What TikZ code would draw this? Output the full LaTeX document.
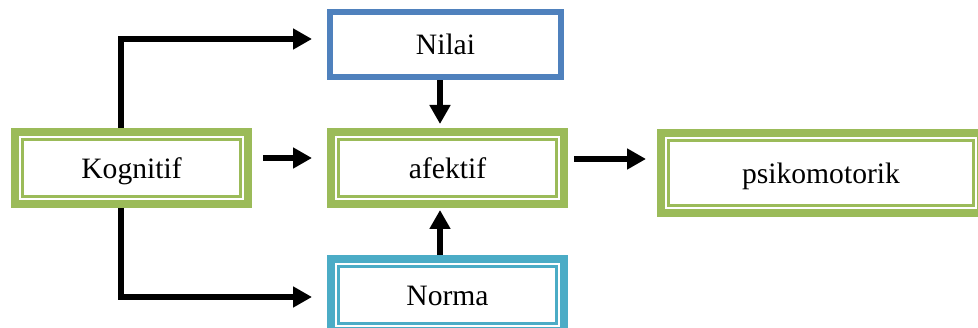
\documentclass[tikz,border=0pt]{standalone}
\usepackage{fontspec}
\setmainfont{Liberation Serif}
\usetikzlibrary{arrows.meta}
\definecolor{kgreen}{HTML}{9BBB59}
\definecolor{kblue}{HTML}{4F81BD}
\definecolor{kcyan}{HTML}{4BACC6}
\begin{document}
\begin{tikzpicture}[x=1pt,y=-1pt,
  every node/.style={font=\fontsize{29.6}{35}\selectfont, inner sep=0pt, text height=20.6pt, text depth=0pt},
  dbox/.style={draw=#1, line width=8pt, fill=white, minimum width=233pt, minimum height=72pt,
    path picture={\draw[#1, line width=2.5pt]
      ([shift={(7.5pt,7.5pt)}]path picture bounding box.south west) rectangle
      ([shift={(-7.5pt,-7.5pt)}]path picture bounding box.north east);}},
  sbox/.style={draw=#1, line width=6.5pt, fill=white, minimum width=231pt, minimum height=65pt},
  arr/.style={line width=6pt, -{Triangle[length=19pt,width=20pt]}}]
\useasboundingbox (0,0) rectangle (978,328);
\clip (0,0) rectangle (978,328);
\fill[white] (0,0) rectangle (978,328);

\node[dbox=kgreen] (K) at (131.5,168) {Kognitif};
\node[dbox=kgreen] (A) at (447.5,168) {afektif};
\node[dbox=kgreen, minimum width=320pt, minimum height=80pt] (P) at (821,173) {psikomotorik};
\node[sbox=kblue] (N) at (445.5,44.5) {Nilai};
\node[dbox=kcyan] (M) at (447.5,295) {Norma};

\coordinate (t1) at (312,39);
\coordinate (t2) at (312,297);

\draw[arr] ([xshift=-10.5pt]K.north) |- (t1);
\draw[arr] ([xshift=-10.5pt]K.south) |- (t2);
\draw[arr] ([xshift=11pt,yshift=10pt]K.east) -- ([xshift=-15pt,yshift=10pt]A.west);
\draw[arr] ([xshift=6pt,yshift=9pt]A.east) -- ([xshift=-11pt,yshift=14pt]P.west);
\draw[arr] ([xshift=-5.5pt]N.south) -- ([xshift=-7.5pt,yshift=4pt]A.north);
\draw[arr] ([xshift=-7.5pt]M.north) -- ([xshift=-7.5pt,yshift=-2pt]A.south);
\end{tikzpicture}
\end{document}
